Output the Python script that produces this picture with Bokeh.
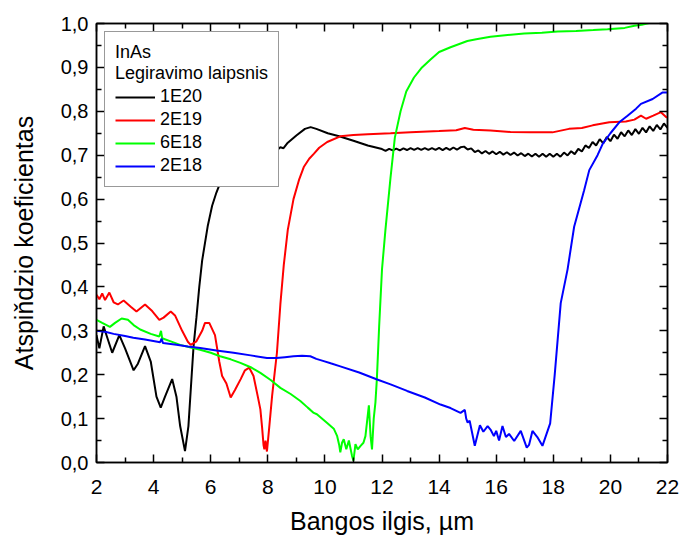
from bokeh.plotting import figure
from bokeh.models import (Range1d, LinearAxis, FixedTicker, CustomJSTickFormatter,
                          Legend, LegendItem)
from bokeh.embed import file_html
from bokeh.resources import INLINE

# ---------------- data ----------------
x_ticks = [2, 4, 6, 8, 10, 12, 14, 16, 18, 20, 22]
x_minor = [3, 5, 7, 9, 11, 13, 15, 17, 19, 21]
y_ticks = [0.0, 0.1, 0.2, 0.3, 0.4, 0.5, 0.6, 0.7, 0.8, 0.9, 1.0]
y_minor = [0.05, 0.15, 0.25, 0.35, 0.45, 0.55, 0.65, 0.75, 0.85, 0.95]

series_labels = ["1E20", "2E19", "6E18", "2E18"]

# 1E20 (black)
bk_x = [2.0, 2.1, 2.25, 2.35, 2.55, 2.8, 3.0, 3.3, 3.45, 3.7, 3.9, 4.1, 4.25, 4.4,
        4.65, 4.8, 4.93, 5.1, 5.22, 5.34, 5.4, 5.5, 5.6, 5.7, 5.9, 6.05, 6.2, 6.35,
        6.6, 7.0, 7.5, 8.0, 8.3, 8.44, 8.55, 8.68, 9.0, 9.3, 9.5, 9.7, 10.1, 10.5,
        11.0, 11.5,
        12.0, 12.125, 12.25, 12.375, 12.5, 12.625, 12.75, 12.875, 13.0, 13.125,
        13.25, 13.375, 13.5, 13.625, 13.75, 13.875, 14.0, 14.125, 14.25, 14.375,
        14.5, 14.625, 14.75, 14.875, 15.0, 15.125, 15.25, 15.375, 15.5, 15.625,
        15.75, 15.875, 16.0, 16.125, 16.25, 16.375, 16.5, 16.625, 16.75, 16.875,
        17.0, 17.125, 17.25, 17.375, 17.5, 17.625, 17.75, 17.875, 18.0, 18.125,
        18.25, 18.375, 18.5, 18.625, 18.75, 18.875, 19.0, 19.125, 19.25, 19.375,
        19.5, 19.625, 19.75, 19.875, 20.0, 20.125, 20.25, 20.375, 20.5, 20.625,
        20.75, 20.875, 21.0, 21.125, 21.25, 21.375, 21.5, 21.625, 21.75, 21.875, 22.0]
bk_y = [0.29, 0.26, 0.31, 0.29, 0.25, 0.29, 0.26, 0.21, 0.225, 0.265, 0.23, 0.15, 0.125, 0.15,
        0.19, 0.15, 0.083, 0.026, 0.083, 0.205, 0.265, 0.33, 0.40, 0.46, 0.54, 0.585, 0.615, 0.64,
        0.665, 0.69, 0.70, 0.705, 0.71, 0.718, 0.716, 0.727, 0.745, 0.76, 0.764, 0.76, 0.75, 0.743,
        0.733, 0.722,
        0.714, 0.710, 0.7145, 0.7108, 0.715, 0.711, 0.7155, 0.7118, 0.716, 0.712,
        0.716, 0.712, 0.716, 0.712, 0.716, 0.712, 0.7165, 0.7115, 0.7165, 0.712,
        0.7175, 0.7125, 0.718, 0.7195, 0.713, 0.7156, 0.7072, 0.7109, 0.704, 0.7095,
        0.7031, 0.7086, 0.7022, 0.7077, 0.7013, 0.7068, 0.7004, 0.706, 0.6993, 0.7046,
        0.698, 0.7034, 0.697, 0.7035, 0.6965, 0.7035, 0.6965, 0.7035, 0.6965, 0.7035,
        0.6966, 0.706, 0.6995, 0.709, 0.7024, 0.7144, 0.7083, 0.7223, 0.7163, 0.7302,
        0.722, 0.7365, 0.727, 0.7415, 0.732, 0.7468, 0.7375, 0.7523, 0.743, 0.7565,
        0.7459, 0.7594, 0.7488, 0.7623, 0.752, 0.7657, 0.7553, 0.769, 0.7587, 0.7723, 0.762]

# 2E19 (red)
rd_x = [2.0, 2.1, 2.2, 2.3, 2.45, 2.6, 2.75, 2.95, 3.2, 3.4, 3.7, 3.95, 4.2, 4.35, 4.6,
        4.75, 5.0, 5.2, 5.3, 5.5, 5.7, 5.8, 5.95, 6.15, 6.3, 6.4, 6.55, 6.7, 6.85, 7.05,
        7.2, 7.35, 7.5, 7.65, 7.74, 7.8, 7.85, 7.88, 7.92, 7.97, 8.05, 8.15, 8.25, 8.32,
        8.44, 8.56, 8.7, 8.9, 9.1, 9.26, 9.45, 9.61, 9.8, 10.08, 10.54, 11.0, 11.5, 12.3,
        13.0, 14.0, 14.6, 14.9, 15.2, 15.8, 16.5, 17.2, 17.97, 18.55, 19.0, 19.38, 19.96,
        20.54, 20.84, 21.07, 21.25, 21.5, 21.77, 21.95, 22.0]
rd_y = [0.382, 0.372, 0.385, 0.37, 0.387, 0.365, 0.36, 0.369, 0.355, 0.344, 0.36, 0.345,
        0.325, 0.33, 0.344, 0.335, 0.30, 0.275, 0.268, 0.276, 0.30, 0.318, 0.318, 0.29,
        0.23, 0.197, 0.18, 0.148, 0.165, 0.19, 0.21, 0.216, 0.197, 0.15, 0.121, 0.08,
        0.04, 0.03, 0.05, 0.025, 0.08, 0.151, 0.21, 0.25, 0.36, 0.45, 0.53, 0.60, 0.645,
        0.673, 0.692, 0.703, 0.717, 0.73, 0.743, 0.746, 0.748, 0.75, 0.752, 0.755, 0.757,
        0.762, 0.758, 0.756, 0.753, 0.752, 0.752, 0.76, 0.762, 0.768, 0.775, 0.777, 0.781,
        0.79, 0.783, 0.79, 0.798, 0.787, 0.786]

# 6E18 (green)
gr_x = [2.0, 2.2, 2.47, 2.65, 2.88, 3.1, 3.3, 3.53, 3.9, 4.2, 4.26, 4.3, 4.6, 4.93,
        5.3, 5.63, 6.0, 6.33, 6.7, 7.04, 7.4, 7.74, 8.1, 8.44, 8.8, 9.14, 9.4, 9.61,
        9.72, 10.08, 10.31, 10.43, 10.5, 10.54, 10.6, 10.66, 10.75, 10.84, 10.95, 11.0,
        11.07, 11.15, 11.25, 11.35, 11.42, 11.54, 11.6, 11.65, 11.71, 11.77, 11.82, 11.9,
        12.0, 12.12, 12.3, 12.45, 12.65, 12.85, 13.12, 13.4, 13.7, 14.0, 14.4, 14.99,
        15.3, 15.8, 16.4, 16.98, 17.6, 18.15, 18.8, 19.4, 19.9, 20.5, 20.84, 21.1, 21.42, 21.8]
gr_y = [0.325, 0.318, 0.309, 0.318, 0.328, 0.325, 0.313, 0.303, 0.293, 0.287, 0.30, 0.283,
        0.276, 0.268, 0.262, 0.257, 0.25, 0.242, 0.235, 0.227, 0.217, 0.204, 0.188, 0.17,
        0.156, 0.14, 0.125, 0.113, 0.11, 0.09, 0.077, 0.06, 0.04, 0.023, 0.045, 0.053,
        0.03, 0.05, 0.015, 0.004, 0.042, 0.03, 0.038, 0.045, 0.06, 0.13, 0.06, 0.03,
        0.10, 0.137, 0.19, 0.31, 0.44, 0.53, 0.65, 0.74, 0.80, 0.845, 0.877, 0.90, 0.918,
        0.935, 0.946, 0.96, 0.964, 0.97, 0.974, 0.977, 0.979, 0.982, 0.983, 0.985, 0.987,
        0.99, 0.995, 0.997, 1.002, 1.006]

# 2E18 (blue)
bl_x = [2.0, 2.3, 2.6, 3.0, 3.29, 3.7, 4.23, 4.28, 4.33, 4.8, 5.2, 5.63, 6.2, 6.8, 7.4,
        7.97, 8.3, 8.6, 8.9, 9.2, 9.49, 9.7, 9.96, 10.2, 10.54, 11.2, 11.83, 12.3, 12.88,
        13.5, 14.05, 14.4, 14.75, 14.9, 14.95, 15.0, 15.07, 15.25, 15.43, 15.55, 15.7,
        15.8, 15.92, 16.0, 16.1, 16.22, 16.34, 16.45, 16.63, 16.86, 17.07, 17.15, 17.27,
        17.44, 17.62, 17.89, 18.05, 18.26, 18.5, 18.73, 19.08, 19.26, 19.55, 19.73, 20.0,
        20.31, 20.6, 20.9, 21.07, 21.48, 21.83, 22.0]
bl_y = [0.30, 0.298, 0.293, 0.288, 0.284, 0.28, 0.274, 0.282, 0.272, 0.268, 0.264, 0.261,
        0.255, 0.25, 0.244, 0.238, 0.238, 0.24, 0.242, 0.243, 0.242, 0.236, 0.231, 0.226,
        0.219, 0.205, 0.189, 0.178, 0.163, 0.148, 0.132, 0.124, 0.113, 0.12, 0.10, 0.091,
        0.095, 0.038, 0.085, 0.07, 0.083, 0.075, 0.06, 0.072, 0.05, 0.083, 0.058, 0.065,
        0.049, 0.072, 0.034, 0.04, 0.072, 0.058, 0.038, 0.089, 0.20, 0.363, 0.44, 0.537,
        0.62, 0.666, 0.70, 0.726, 0.75, 0.775, 0.79, 0.806, 0.817, 0.828, 0.843, 0.843]

# ---------------- figure ----------------
FONT = "Liberation Sans"

p = figure(width=680, height=537, output_backend="svg", toolbar_location=None,
           x_range=Range1d(2, 22), y_range=Range1d(0, 1.0),
           min_border_left=96, min_border_right=13, min_border_top=23, min_border_bottom=74)
p.xgrid.visible = False
p.ygrid.visible = False
p.outline_line_color = "black"
p.outline_line_width = 1.5
p.background_fill_color = "white"
p.border_fill_color = "white"

yfmt = CustomJSTickFormatter(code="return tick.toFixed(1).replace('.', ',');")
blank = CustomJSTickFormatter(code="return '';")

xb = p.xaxis[0]
xb.ticker = FixedTicker(ticks=x_ticks, minor_ticks=x_minor)
yl = p.yaxis[0]
yl.ticker = FixedTicker(ticks=y_ticks, minor_ticks=y_minor)
yl.formatter = yfmt

xt = LinearAxis(ticker=FixedTicker(ticks=x_ticks, minor_ticks=x_minor), formatter=blank)
yr = LinearAxis(ticker=FixedTicker(ticks=y_ticks, minor_ticks=y_minor), formatter=blank)
p.add_layout(xt, "above")
p.add_layout(yr, "right")

for ax in (xb, yl, xt, yr):
    ax.axis_line_color = "black"
    ax.axis_line_width = 1.5
    ax.major_tick_line_color = "black"
    ax.minor_tick_line_color = "black"
    ax.major_tick_line_width = 1.5
    ax.minor_tick_line_width = 1.5
    ax.major_tick_in = 8
    ax.major_tick_out = 0
    ax.minor_tick_in = 5
    ax.minor_tick_out = 0
    ax.major_label_text_font = FONT
    ax.major_label_text_color = "black"

for ax in (xt, yr):
    ax.major_label_text_font_size = "1px"
    ax.major_label_standoff = 0

xb.major_label_text_font_size = "21px"
xb.major_label_standoff = 17
yl.major_label_text_font_size = "20px"
yl.major_label_standoff = 8

xb.axis_label = "Bangos ilgis, µm"
yl.axis_label = "Atspiňdzio koeficientas"
for ax in (xb, yl):
    ax.axis_label_text_font = FONT
    ax.axis_label_text_font_size = "25px"
    ax.axis_label_text_font_style = "normal"
    ax.axis_label_text_color = "black"
xb.axis_label_standoff = 10
yl.axis_label_standoff = 20

r1 = p.line(bk_x, bk_y, line_color="#000000", line_width=2)
r2 = p.line(rd_x, rd_y, line_color="#ff0000", line_width=2)
r3 = p.line(gr_x, gr_y, line_color="#00ff00", line_width=2)
r4 = p.line(bl_x, bl_y, line_color="#0000ff", line_width=2)

legend = Legend(
    items=[LegendItem(label=series_labels[0], renderers=[r1]),
           LegendItem(label=series_labels[1], renderers=[r2]),
           LegendItem(label=series_labels[2], renderers=[r3]),
           LegendItem(label=series_labels[3], renderers=[r4])],
    location="top_left", title="InAs\nLegiravimo laipsnis",
    title_text_font=FONT, title_text_font_size="18px", title_text_font_style="normal",
    title_text_color="black", title_standoff=2,
    label_text_font=FONT, label_text_font_size="18px", label_text_color="black",
    border_line_color="#333333", border_line_width=1,
    background_fill_color="white", background_fill_alpha=1.0,
    glyph_width=40, glyph_height=20, label_height=20, label_standoff=5,
    spacing=2, padding=10, margin=8)
p.add_layout(legend)

open("out.html", "w").write(file_html(p, INLINE))
